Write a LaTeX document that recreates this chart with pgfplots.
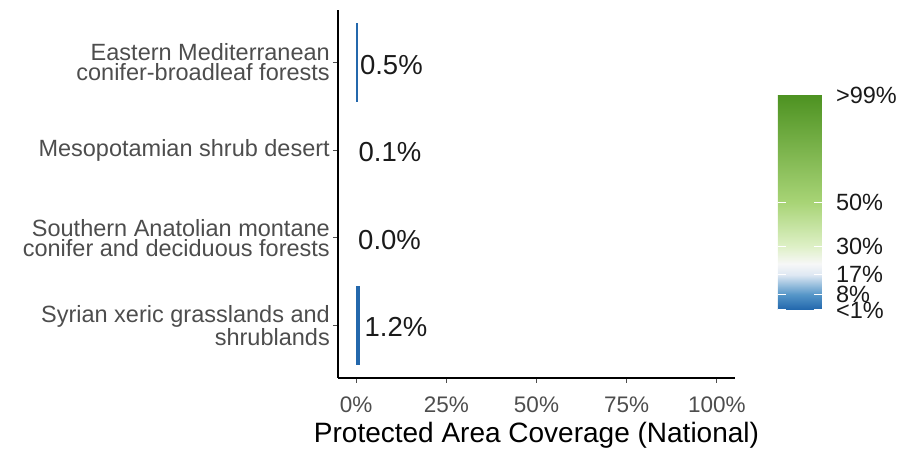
\documentclass[border=0pt]{standalone}
\usepackage{fontspec}
\setmainfont{Liberation Sans}
\usepackage{pgfplots}
\pgfplotsset{compat=1.18}
\definecolor{tickgray}{RGB}{77,77,77}
\definecolor{txtblack}{RGB}{26,26,26}
\definecolor{barblue}{RGB}{36,104,172}
\pgfplotsset{
  colormap={pacov}{
    rgb255(1)=(33,102,172)
    rgb255(8)=(85,150,200)
    rgb255(17)=(222,232,243)
    rgb255(22)=(247,247,247)
    rgb255(30)=(222,240,198)
    rgb255(50)=(168,212,118)
    rgb255(99)=(77,146,33)
  }
}
\begin{document}
\begin{tikzpicture}
\path[use as bounding box] (0pt,0pt) rectangle (900pt,455pt);
\begin{axis}[
  at={(338pt,77pt)}, anchor=south west,
  scale only axis,
  width=397pt, height=368pt,
  xmin=-5, xmax=105,
  ymin=0.4, ymax=4.6,
  axis x line*=bottom, axis y line*=left,
  axis line style={black, line width=1.3pt, -},
  tick align=outside,
  major tick length=5pt,
  tick style={tickgray, line width=1pt},
  xtick={0,25,50,75,100},
  xticklabels={0\%,25\%,50\%,75\%,100\%},
  xticklabel style={font=\fontsize{22.5}{22.5}\selectfont, text=tickgray, inner sep=2pt, yshift=-12pt},
  ytick={1,2,3,4},
  yticklabels={{Syrian xeric grasslands and\\shrublands},
               {Southern Anatolian montane\\conifer and deciduous forests},
               {Mesopotamian shrub desert},
               {Eastern Mediterranean\\conifer-broadleaf forests}},
  yticklabel style={font=\fontsize{23.5}{20}\selectfont, text=tickgray, align=right, inner sep=2pt, xshift=-1pt},
  xlabel={Protected Area Coverage (National)},
  xlabel style={font=\fontsize{28}{28}\selectfont, text=black, yshift=-4pt},
  colormap name=pacov,
  point meta min=1, point meta max=99,
  colorbar,
  colorbar/width=44pt,
  colorbar style={
    at={(1.108,0.185)}, anchor=south west,
    scale only axis,
    width=44pt, height=215pt,
    ytick={1,8,17,30,50,99},
    yticklabels={<1\%,8\%,17\%,30\%,50\%,>99\%},
    yticklabel pos=right,
    ytick pos=both,
    tick align=inside,
    major tick length=8pt,
    ytick style={white, line width=1pt},
    axis line style={draw=none},
    yticklabel style={font=\fontsize{23.5}{23.5}\selectfont, text=txtblack, inner sep=2pt, xshift=12pt},
  },
  clip=false,
]
\addplot[xbar, bar width=0.9, bar shift=0pt, draw=none, fill=barblue,
  point meta=explicit symbolic,
  nodes near coords,
  nodes near coords style={anchor=west, font=\fontsize{27.5}{27.5}\selectfont, text=txtblack, inner sep=0pt, xshift=2pt, yshift=-2pt}]
  coordinates {(0.5,4) [0.5\%]};
\addplot[xbar, bar width=0.9, bar shift=0pt, draw=none, fill=none,
  point meta=explicit symbolic,
  nodes near coords,
  nodes near coords style={anchor=west, font=\fontsize{27.5}{27.5}\selectfont, text=txtblack, inner sep=0pt, xshift=2pt, yshift=-2pt}]
  coordinates {(0.1,3) [0.1\%] (0.0,2) [0.0\%]};
\addplot[xbar, bar width=0.9, bar shift=0pt, draw=none, fill=barblue,
  point meta=explicit symbolic,
  nodes near coords,
  nodes near coords style={anchor=west, font=\fontsize{27.5}{27.5}\selectfont, text=txtblack, inner sep=0pt, xshift=4pt, yshift=-2pt}]
  coordinates {(1.2,1) [1.2\%]};
\end{axis}
\end{tikzpicture}
\end{document}
